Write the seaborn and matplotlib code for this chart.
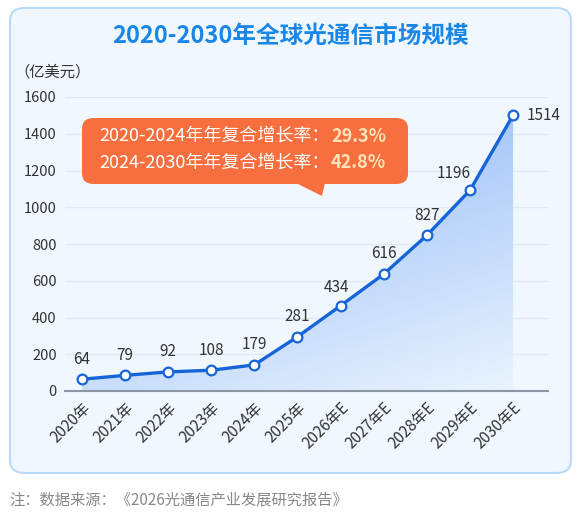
import numpy as np
import pandas as pd
import matplotlib
matplotlib.use('Agg')
import matplotlib.pyplot as plt
import seaborn as sns
from matplotlib.patches import FancyBboxPatch, Polygon
from matplotlib.colors import LinearSegmentedColormap
import matplotlib.transforms as mtransforms

years = ['2020年', '2021年', '2022年', '2023年', '2024年', '2025年',
         '2026年E', '2027年E', '2028年E', '2029年E', '2030年E']
# value labels as printed on the chart
labels = [64, 79, 92, 108, 179, 281, 434, 616, 827, 1196, 1514]
# heights at which the points are actually drawn in the picture
drawn = [64, 85, 104, 113, 142, 295, 464, 636, 847, 1092, 1501]
yticks = [0, 200, 400, 600, 800, 1000, 1200, 1400, 1600]

df = pd.DataFrame({'year': years, 'x': range(len(years)), 'value': drawn, 'label': labels})

sns.set_style('white')
plt.rcParams['font.family'] = ['Noto Sans CJK SC', 'DejaVu Sans']

W, H = 584, 514
fig = plt.figure(figsize=(W / 100, H / 100), dpi=100)
fig.patch.set_facecolor('white')

# card background
card = FancyBboxPatch((10 / W, 1 - 473 / H), 561 / W, 465 / H,
                      boxstyle='round,pad=0,rounding_size=0.025',
                      transform=fig.transFigure, facecolor='#f0f7fe',
                      edgecolor='#b9dbf7', linewidth=1.5, zorder=-10)
fig.patches.append(card)

ax = fig.add_axes([65 / W, 1 - 391 / H, (548 - 65) / W, (391 - 97) / H])
ax.set_facecolor('none')

# gradient area under the line
fill = ax.fill_between(df['x'], df['value'], 0, color='none')
gx, gy = np.meshgrid(np.linspace(0, 10, 200), np.linspace(0, 1600, 200))
t = np.clip(gy / 1500 + 0.5 * (1 - gx / 10), 0, 1)
cmap = LinearSegmentedColormap.from_list('fillgrad', ['#eaf3fe', '#a7c8f8'])
img = ax.imshow(t, extent=[0, 10, 0, 1600], origin='lower', cmap=cmap,
                aspect='auto', zorder=1)
img.set_clip_path(fill.get_paths()[0], transform=ax.transData)

sns.lineplot(data=df, x='x', y='value', ax=ax, color='#1565d8', linewidth=2.4,
             marker='o', markersize=7, markerfacecolor='white',
             markeredgecolor='#1565d8', markeredgewidth=1.6, zorder=4)

ax.set_xlim(-0.39, 10.81)
ax.set_ylim(0, 1600)
ax.set_yticks(yticks)
ax.set_yticklabels([str(v) for v in yticks], fontsize=10.5, color='#333333')
ax.set_xticks(df['x'])
ax.set_xticklabels(years, rotation=45, ha='right', rotation_mode='anchor',
                   fontsize=11, color='#333333')
offset = mtransforms.ScaledTranslation(0.23, -0.03, fig.dpi_scale_trans)
for lbl in ax.get_xticklabels():
    lbl.set_transform(lbl.get_transform() + offset)
ax.tick_params(axis='both', length=0, pad=6)
ax.set_xlabel('')
ax.set_ylabel('')
ax.grid(axis='y', color='#dfe9f4', linewidth=1)
ax.set_axisbelow(True)
for s in ['top', 'right', 'left']:
    ax.spines[s].set_visible(False)
ax.spines['bottom'].set_color('#8c97a3')
ax.spines['bottom'].set_linewidth(1.5)

# value labels
offsets = {6: (-3, 13), 9: (-12, 12), 10: (22, 0)}
for i, row in df.iterrows():
    dx, dy = offsets.get(i, (0, 14.5))
    ax.annotate(str(row['label']), (row['x'], row['value']), xytext=(dx, dy),
                textcoords='offset points', ha='center', va='center',
                fontsize=11, color='#333333', zorder=5)

# title, unit and source
fig.text(0.497, 1 - 36 / H, '2020-2030年全球光通信市场规模', ha='center', va='center',
         fontsize=17, fontweight='bold', color='#1a87e6')
fig.text(14 / W, 1 - 72 / H, '（亿美元）', ha='left', va='center',
         fontsize=11, color='#333333')
fig.text(9 / W, 1 - 500 / H, '注：数据来源：《2026光通信产业发展研究报告》', ha='left',
         va='center', fontsize=11, color='#888888')

# callout box
box = FancyBboxPatch((82 / W, 1 - 184 / H), 326 / W, 66 / H,
                     boxstyle='round,pad=0,rounding_size=0.02',
                     transform=fig.transFigure, facecolor='#f76f3e', edgecolor='none')
fig.patches.append(box)
tri = Polygon([(296 / W, 1 - 183 / H), (325 / W, 1 - 183 / H), (322 / W, 1 - 196 / H)],
              closed=True, transform=fig.transFigure, facecolor='#f76f3e', edgecolor='none')
fig.patches.append(tri)
cagr_text = ['2020-2024年年复合增长率：', '2024-2030年年复合增长率：']
cagr_vals = ['29.3%', '42.8%']
for k, (txt, val) in enumerate(zip(cagr_text, cagr_vals)):
    yy = 1 - (136 + 27 * k) / H
    fig.text(330 / W, yy, txt, ha='right', va='center', fontsize=13, color='white')
    fig.text(331 / W, yy, val, ha='left', va='center', fontsize=13,
             fontweight='bold', color='#ffe3b8')

fig.savefig('out.png', dpi=100, facecolor='white')
